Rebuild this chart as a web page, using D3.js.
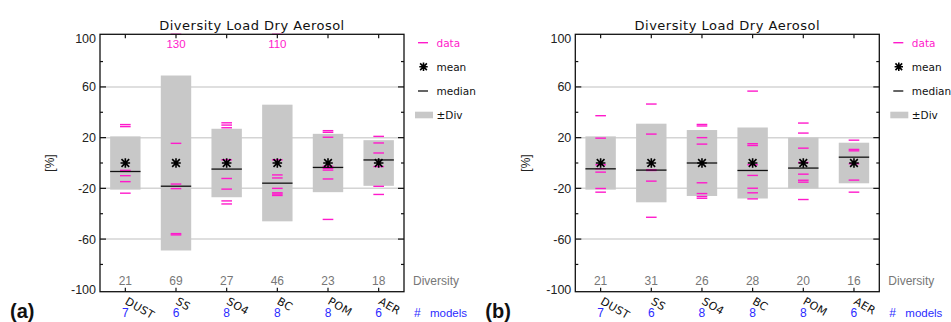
<!DOCTYPE html>
<html lang="en">
<head>
<meta charset="utf-8">
<title>Diversity Load Dry Aerosol</title>
<script src="https://cdn.jsdelivr.net/npm/d3@7"></script>
<style>
  body { margin: 0; background: #fff; }
  svg { display: block; }
  .tick-lab { font-family: "Liberation Sans", Arial, sans-serif; font-size: 12.5px; fill: #222; }
  .hershey { font-family: "DejaVu Sans", sans-serif; }
</style>
</head>
<body>
<script>

// categories and counts
var categories = ["DUST", "SS", "SO4", "BC", "POM", "AER"];
var nModels = [7, 6, 8, 8, 8, 6];
var yTicks = [100, 60, 20, -20, -60, -100];
var yMinor = [80, 40, 0, -40, -80];

// panel (a)
var diversityA = [21, 69, 27, 46, 23, 18];
var medianA = [-6.7, -18.3, -4.8, -15.9, -3.5, 2.4];
var dataA = [
  [30.3, 28.7, -5.8, -6.6, -10, -14.7, -23.8],
  [130, 15.5, -16.6, -20.2, -55.7, -56.7],
  [31.7, 29.9, 27.8, 2.5, -12.2, -20.6, -29.9, -32.3],
  [110, 2.5, -9.4, -11.8, -20, -23.5, -25.6, -24.5],
  [25.5, 24.2, 20.3, -2.6, -4.2, -5.6, -12.6, -44.5],
  [21, 15.8, 7.9, -2.8, -18.4, -24.8]
];

// panel (b)
var diversityB = [21, 31, 26, 28, 20, 16];
var medianB = [-4.6, -5.6, 0, -5.9, -4, 4.6];
var dataB = [
  [37.3, 19.6, -1.4, -4.6, -7.2, -20.1, -23],
  [46.5, 22.8, -5.3, -5.9, -14.3, -42.8],
  [30.4, 29.2, 20, 14.9, -15.6, -24.1, -26.4, -27.8],
  [56.7, 15.2, 13.8, -1.4, -9.8, -19.9, -23.5, -28.3],
  [31.5, 23.6, 11.7, 0.4, -8.8, -13.6, -15.1, -28.8],
  [18, 10.7, 9.6, -0.6, -13.5, -23]
];

var pink = "#ff1acb";
var blue = "#2b2bff";
var grey = "#c8c8c8";

var W = 951, H = 322;
var plotW = 304;

var svg = d3.select("body").append("svg")
  .attr("width", W).attr("height", H);

var y = d3.scaleLinear().domain([-101.5, 101.5]).range([291.7, 34.3]);

function drawPanel(x0, diversity, medians, data, letter) {
  var g = svg.append("g").attr("transform", "translate(" + x0 + ",0)");
  var x = d3.scaleLinear().domain([0, categories.length]).range([0, plotW]);

  // grid
  g.selectAll(".grid").data([60, 20, -20, -60]).enter().append("line")
    .attr("x1", 0).attr("x2", plotW)
    .attr("y1", function(d) { return y(d); }).attr("y2", function(d) { return y(d); })
    .attr("stroke", "#d4d4d4").attr("stroke-width", 1.5);

  // +-Div boxes
  g.selectAll(".box").data(diversity).enter().append("rect")
    .attr("x", function(d, i) { return x(i + 0.2); })
    .attr("width", x(0.6) - x(0))
    .attr("y", function(d) { return y(d); })
    .attr("height", function(d) { return y(-d) - y(d); })
    .attr("fill", grey);

  // data lines
  categories.forEach(function(c, i) {
    g.selectAll(".dat" + i).data(data[i]).enter().append("line")
      .attr("x1", x(i + 0.395)).attr("x2", x(i + 0.605))
      .attr("y1", function(d) { return y(Math.min(d, 101.5)); })
      .attr("y2", function(d) { return y(Math.min(d, 101.5)); })
      .attr("stroke", pink).attr("stroke-width", 1.4);
    data[i].filter(function(d) { return d > 100; }).forEach(function(d) {
      g.append("text").attr("x", x(i + 0.5)).attr("y", 47.5)
        .attr("text-anchor", "middle")
        .style("font-family", "Liberation Sans, Arial, sans-serif")
        .style("font-size", "11.5px").attr("fill", pink).text(d);
    });
  });

  // medians
  g.selectAll(".med").data(medians).enter().append("line")
    .attr("x1", function(d, i) { return x(i + 0.2); })
    .attr("x2", function(d, i) { return x(i + 0.8); })
    .attr("y1", function(d) { return y(d); }).attr("y2", function(d) { return y(d); })
    .attr("stroke", "#111").attr("stroke-width", 1.3);

  // mean stars at 0
  function star(sel, cx, cy, r) {
    var p = "M" + (cx - r) + "," + cy + "H" + (cx + r) +
      "M" + cx + "," + (cy - r) + "V" + (cy + r) +
      "M" + (cx - r * 0.8) + "," + (cy - r * 0.8) + "L" + (cx + r * 0.8) + "," + (cy + r * 0.8) +
      "M" + (cx - r * 0.8) + "," + (cy + r * 0.8) + "L" + (cx + r * 0.8) + "," + (cy - r * 0.8);
    sel.append("path").attr("d", p).attr("stroke", "#000").attr("stroke-width", 1.6).attr("fill", "none");
  }
  categories.forEach(function(c, i) { star(g, x(i + 0.5), y(0), 4.8); });

  // frame
  g.append("rect").attr("x", 0).attr("y", y(101.5)).attr("width", plotW)
    .attr("height", y(-101.5) - y(101.5))
    .attr("fill", "none").attr("stroke", "#111").attr("stroke-width", 1.3);

  // y ticks (both sides, inward)
  yTicks.concat(yMinor).forEach(function(v) {
    var len = yTicks.indexOf(v) >= 0 ? 6 : 3;
    if (Math.abs(v) === 100) return;
    g.append("line").attr("x1", 0).attr("x2", len).attr("y1", y(v)).attr("y2", y(v))
      .attr("stroke", "#111").attr("stroke-width", 1.2);
    g.append("line").attr("x1", plotW - len).attr("x2", plotW).attr("y1", y(v)).attr("y2", y(v))
      .attr("stroke", "#111").attr("stroke-width", 1.2);
  });
  // top and bottom ticks at categories
  categories.forEach(function(c, i) {
    g.append("line").attr("x1", x(i + 0.5)).attr("x2", x(i + 0.5))
      .attr("y1", y(101.5)).attr("y2", y(101.5) + 4)
      .attr("stroke", "#111").attr("stroke-width", 1.2);
    g.append("line").attr("x1", x(i + 0.5)).attr("x2", x(i + 0.5))
      .attr("y1", y(-101.5)).attr("y2", y(-101.5) - 4)
      .attr("stroke", "#111").attr("stroke-width", 1.2);
  });

  g.selectAll(".ylab").data(yTicks).enter().append("text")
    .attr("class", "tick-lab")
    .attr("x", -4).attr("y", function(d) { return y(d) + (d === 100 ? 2 : 0); })
    .attr("dy", "0.36em").attr("text-anchor", "end")
    .text(function(d) { return d; });

  g.append("text").attr("class", "tick-lab")
    .attr("transform", "translate(-50," + y(0) + ") rotate(-90)")
    .attr("text-anchor", "middle").attr("dy", "0.36em")
    .style("font-size", "12px").text("[%]");

  // title
  g.append("text").attr("class", "hershey")
    .attr("x", plotW / 2).attr("y", 29.5).attr("text-anchor", "middle")
    .style("font-size", "13px").style("letter-spacing", "0.5px").attr("fill", "#111")
    .text("Diversity Load Dry Aerosol");

  // diversity values
  g.selectAll(".div").data(diversity).enter().append("text")
    .attr("class", "tick-lab")
    .attr("x", function(d, i) { return x(i + 0.5); }).attr("y", 285)
    .attr("text-anchor", "middle").style("fill", "#777")
    .style("font-size", "12px")
    .text(function(d) { return d; });
  g.append("text").attr("class", "tick-lab").attr("x", plotW + 9).attr("y", 285)
    .style("fill", "#777").style("font-size", "12px").text("Diversity");

  // category labels
  categories.forEach(function(c, i) {
    g.append("text").attr("class", "hershey")
      .attr("transform", "translate(" + (x(i + 0.5) - 1) + ",303.5) rotate(30)")
      .style("font-size", "11px").style("letter-spacing", "0.3px").attr("fill", "#111")
      .text(c);
  });

  // model counts
  g.selectAll(".nm").data(nModels).enter().append("text")
    .attr("class", "tick-lab")
    .attr("x", function(d, i) { return x(i + 0.5); }).attr("y", 317)
    .attr("text-anchor", "middle").style("fill", blue).style("font-size", "12px")
    .text(function(d) { return d; });
  g.append("text").attr("class", "tick-lab").attr("x", plotW + 10).attr("y", 317)
    .style("fill", blue).style("font-size", "12px").text("#");
  g.append("text").attr("class", "tick-lab").attr("x", plotW + 26).attr("y", 317)
    .style("fill", blue).style("font-size", "11.5px").text("models");

  // legend
  var lx = plotW + 14;
  var tx = plotW + 32.5;
  g.append("line").attr("x1", lx).attr("x2", lx + 10).attr("y1", 42.7).attr("y2", 42.7)
    .attr("stroke", pink).attr("stroke-width", 1.4);
  g.append("text").attr("class", "hershey").attr("x", tx).attr("y", 46.8)
    .style("font-size", "10.5px").attr("fill", pink).text("data");
  star(g, lx + 5.5, 66.7, 4.2);
  g.append("text").attr("class", "hershey").attr("x", tx).attr("y", 70.8)
    .style("font-size", "10.5px").attr("fill", "#111").text("mean");
  g.append("line").attr("x1", lx).attr("x2", lx + 10).attr("y1", 91).attr("y2", 91)
    .attr("stroke", "#111").attr("stroke-width", 1.3);
  g.append("text").attr("class", "hershey").attr("x", tx).attr("y", 95)
    .style("font-size", "10.5px").attr("fill", "#111").text("median");
  g.append("rect").attr("x", lx - 3).attr("y", 111.7).attr("width", 18).attr("height", 6.6)
    .attr("fill", grey);
  g.append("text").attr("class", "hershey").attr("x", tx).attr("y", 119)
    .style("font-size", "10.5px").attr("fill", "#111").text("\u00b1Div");

  // panel letter
  svg.append("text").attr("x", x0 - 90).attr("y", 317.5)
    .style("font-family", "Liberation Sans, Arial, sans-serif")
    .style("font-size", "20px").style("font-weight", "bold").attr("fill", "#111")
    .text(letter);
}

drawPanel(100, diversityA, medianA, dataA, "(a)");
drawPanel(575.3, diversityB, medianB, dataB, "(b)");

</script>
</body>
</html>
